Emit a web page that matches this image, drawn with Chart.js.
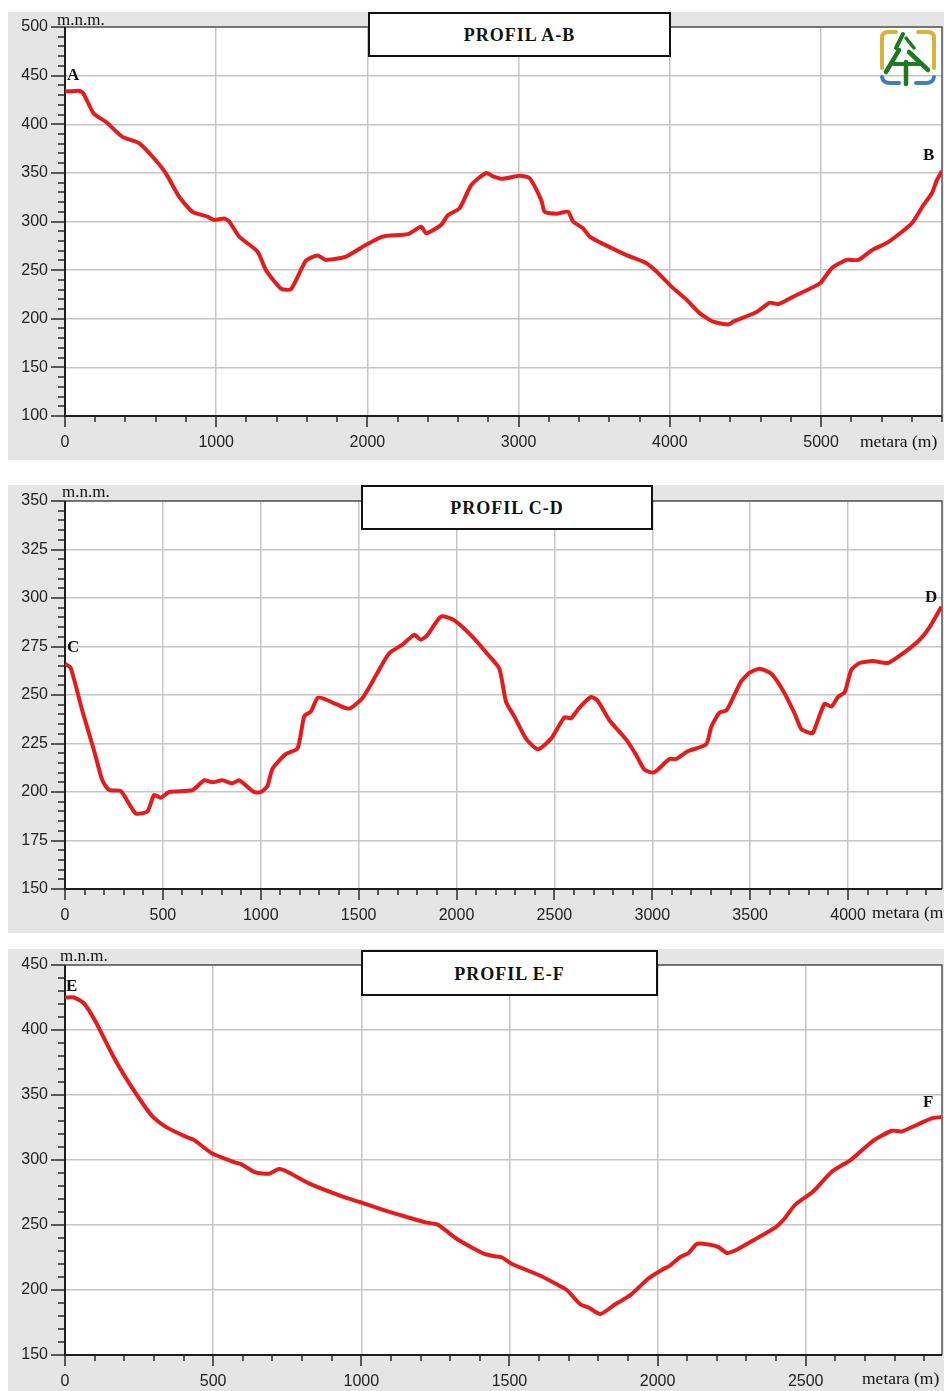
<!DOCTYPE html>
<html><head><meta charset="utf-8">
<script src="https://cdn.jsdelivr.net/npm/chart.js@4.4.1/dist/chart.umd.min.js"></script>
<style>
html,body{margin:0;padding:0;background:#fff;width:944px;height:1391px;overflow:hidden;position:relative}
.panel{position:absolute;left:8px;width:936px;background:#e5e5e5}
.panel canvas{position:absolute;left:0;top:0}
.title{position:absolute;background:#fff;border:2px solid #111;box-sizing:border-box;font:bold 18px "Liberation Serif",serif;letter-spacing:1px;display:flex;align-items:center;justify-content:center;color:#111;padding-top:2px}
.unit{position:absolute;font:17px/17px "Liberation Serif",serif;color:#111;white-space:nowrap}
.pt{position:absolute;font:bold 17px/17px "Liberation Serif",serif;color:#111}
</style></head><body>

<div class="panel" style="top:12px;height:448px"><canvas id="c1" width="936" height="448"></canvas></div>
<div class="panel" style="top:485px;height:448px"><canvas id="c2" width="936" height="448"></canvas></div>
<div class="panel" style="top:949px;height:442px"><canvas id="c3" width="936" height="442"></canvas></div>

<div class="title" style="left:368px;top:12px;width:303px;height:45px">PROFIL A-B</div>
<div class="title" style="left:361px;top:485px;width:292px;height:45px">PROFIL C-D</div>
<div class="title" style="left:361px;top:950px;width:297px;height:46px">PROFIL E-F</div>

<div class="unit" style="left:57px;top:11px">m.n.m.</div>
<div class="unit" style="left:62px;top:483px">m.n.m.</div>
<div class="unit" style="left:60px;top:947px">m.n.m.</div>
<div class="unit" style="left:860px;top:433px;font-size:17.5px">metara (m)</div>
<div class="unit" style="left:872px;top:904px;font-size:17.5px">metara (m)</div>
<div class="unit" style="left:862px;top:1370px;font-size:17.5px">metara (m)</div>

<div class="pt" style="left:67px;top:66px">A</div>
<div class="pt" style="left:923px;top:146px">B</div>
<div class="pt" style="left:67px;top:638px">C</div>
<div class="pt" style="left:925px;top:588px">D</div>
<div class="pt" style="left:66px;top:977px">E</div>
<div class="pt" style="left:923px;top:1093px">F</div>

<svg style="position:absolute;left:878px;top:28px" width="60" height="60" viewBox="0 0 60 60">
  <g fill="none" stroke-linecap="round">
    <path d="M4 40 V10 Q4 4 10 4 H18" stroke="#d8b23c" stroke-width="4"/>
    <path d="M40 4 H50 Q56 4 56 10 V40" stroke="#d8b23c" stroke-width="4"/>
    <path d="M4 49 Q5 55 12 55 H21" stroke="#3d7fc2" stroke-width="4"/>
    <path d="M38 55 H48 Q55 55 56 49" stroke="#3d7fc2" stroke-width="4"/>
    <path d="M25 6 L18 20" stroke="#1d7a22" stroke-width="4"/>
    <path d="M28 10 L36 20" stroke="#1d7a22" stroke-width="3.5"/>
    <path d="M21 22 L8 44" stroke="#1d7a22" stroke-width="4.5"/>
    <path d="M31 24 L50 42" stroke="#1d7a22" stroke-width="4.5"/>
    <path d="M16 36 H44" stroke="#1d7a22" stroke-width="4"/>
    <path d="M28 34 V56" stroke="#1d7a22" stroke-width="4.5"/>
  </g>
</svg>

<script>
// ---------- DATA ----------
// PROFIL A-B
const abDist = [0,90,120,190,270,380,490,600,667,755,843,942,987,1053,1086,1152,1274,1329,1428,1495,1594,1671,1726,1859,1991,2101,2267,2356,2389,2488,2532,2609,2687,2786,2830,2896,3007,3073,3150,3172,3250,3327,3360,3426,3470,3558,3713,3846,3912,4022,4111,4199,4287,4386,4419,4574,4662,4717,4839,4993,5071,5170,5247,5336,5446,5600,5678,5733,5766,5800];
const abElev = [433.5,434.5,432,411,402.5,387,380.5,363,349.5,325.5,310,305,301.5,303,300,284.5,269,250,231,230.5,260,265,260.5,264,276,284.5,287,294.5,288,296.5,306.5,313.5,337.5,350,346.5,344,347,344.5,322,310,308,310,300,293,284.5,277,265.5,257,248.5,231.5,219.5,205.5,197,194,197,207,216.5,215,224.5,236.5,252,260.5,260.5,270.5,279,298,317,329,342.5,352];
// PROFIL C-D
const cdDist = [0,29,88,148,191,225,285,361,421,455,489,532,651,711,753,804,855,890,966,1000,1034,1060,1128,1188,1222,1256,1290,1324,1392,1452,1520,1588,1656,1724,1784,1818,1852,1921,1989,2082,2168,2219,2253,2295,2355,2415,2483,2551,2585,2628,2688,2721,2781,2867,2918,2960,3003,3028,3088,3122,3181,3275,3301,3344,3378,3403,3454,3497,3548,3608,3667,3727,3761,3804,3821,3880,3915,3949,3983,4017,4059,4127,4204,4281,4366,4417,4477];
const cdElev = [266,264,242,221.5,206,201,200.5,189,190,198.5,197,200,201,206,205,206,204.5,206,200,200,203,212,219.5,222.5,239,241.5,248.5,248,245,243,248.5,260,271.5,276,281,278.5,281,290.5,288.5,280,270,263.5,246.5,239,227.5,222,227.5,238.5,238,243.5,249,247,237,227,219,211.5,210,211.5,217,217,221,224.5,233.5,241,242,246.5,257,261.5,263.5,261,252.5,240.5,232.5,230.5,230.5,245.5,244,249,251.5,263,266.5,267.5,266.5,271.5,278.5,285,295.5];
// PROFIL E-F
const efDist = [0,30,64,103,160,199,250,295,340,407,435,497,576,593,643,688,722,750,823,935,997,1076,1149,1216,1256,1284,1318,1362,1413,1450,1475,1509,1599,1655,1694,1739,1767,1807,1857,1908,1970,2015,2043,2077,2105,2133,2172,2206,2234,2267,2329,2397,2425,2464,2526,2588,2655,2723,2790,2824,2880,2925,2958];
const efElev = [425,425,420.5,406.5,381,365.5,347.5,333.5,325.5,318,315.5,305,298,297,290.5,289.5,293,291,282,272,267.5,261.5,256.5,252,250.5,246,240,234,228,226,225,220,211.5,205,200,189,186.5,181.5,189,196,209,215.5,219,225.5,228.5,235.5,235,233,228.5,231,239,248,254,265.5,276,291,300.5,314,322.5,322,327.5,332,333];

// tick labels
const abXLabels = [0,1000,2000,3000,4000,5000];
const abYLabels = [100,150,200,250,300,350,400,450,500];
const cdXLabels = [0,500,1000,1500,2000,2500,3000,3500,4000];
const cdYLabels = [150,175,200,225,250,275,300,325,350];
const efXLabels = [0,500,1000,1500,2000,2500];
const efYLabels = [150,200,250,300,350,400,450];

// ---------- CHART ----------
function steps(min, max, step){ const a=[]; for(let v=min; v<=max+1e-9; v+=step) a.push(v); return a; }
const GRID = '#c6c6c6';

const decor = {
  id: 'decor',
  beforeDraw(chart){
    const {ctx, chartArea:a} = chart;
    ctx.save(); ctx.fillStyle = '#fff'; ctx.fillRect(a.left, a.top, a.right-a.left, a.bottom-a.top); ctx.restore();
  },
  beforeDatasetsDraw(chart){
    const {ctx, chartArea:a, scales:{x, y}} = chart;
    const o = chart.options.plugins.decor;
    ctx.save();
    ctx.strokeStyle = '#2a2a2a'; ctx.lineWidth = 1.5;
    ctx.beginPath();
    x.ticks.forEach(t => { const p = Math.round(x.getPixelForValue(t.value)); const L = o.xl.includes(t.value) ? 11 : 6; ctx.moveTo(p, a.bottom); ctx.lineTo(p, a.bottom + L); });
    y.ticks.forEach(t => { const p = Math.round(y.getPixelForValue(t.value)); const L = o.yl.includes(t.value) ? 14 : 7; ctx.moveTo(a.left, p); ctx.lineTo(a.left - L, p); });
    ctx.stroke();
    ctx.strokeStyle = '#555'; ctx.lineWidth = 1.5;
    ctx.beginPath(); ctx.moveTo(a.left, a.top); ctx.lineTo(a.right, a.top); ctx.lineTo(a.right, a.bottom); ctx.stroke();
    ctx.strokeStyle = '#1e1e1e'; ctx.lineWidth = 2;
    ctx.beginPath(); ctx.moveTo(a.left, a.top); ctx.lineTo(a.left, a.bottom); ctx.lineTo(a.right, a.bottom); ctx.stroke();
    ctx.restore();
  }
};

function zeroPad(s){ s.paddingTop = 0; s.paddingBottom = 0; s.paddingLeft = 0; s.paddingRight = 0; }

function makeChart(id, dist, elev, c){
  const xTicks = steps(0, c.xMax, c.xStep);
  const yTicks = steps(c.yMin, c.yMax, c.yStep);
  const font = {family: '"Liberation Sans", Arial, sans-serif', size: 16};
  return new Chart(document.getElementById(id), {
    type: 'line',
    data: { datasets: [{
      data: dist.map((d, i) => ({x: d, y: elev[i]})),
      borderColor: '#e41c1c', borderWidth: 4, pointRadius: 0, tension: 0.2, fill: false
    }]},
    options: {
      responsive: false, animation: false, devicePixelRatio: 1,
      layout: {padding: {left: 0, right: 2, top: c.padTop, bottom: 0}},
      plugins: {legend: {display: false}, tooltip: {enabled: false}, decor: {xl: c.xLabels, yl: c.yLabels}},
      scales: {
        x: {
          type: 'linear', min: 0, max: c.xMax,
          afterBuildTicks: s => { s.ticks = xTicks.map(v => ({value: v})); },
          afterFit: s => { s.height = c.xAxisH; zeroPad(s); },
          grid: {drawTicks: false, lineWidth: 1.5, color: k => (k.tick && c.xLabels.includes(k.tick.value)) ? GRID : 'rgba(0,0,0,0)'},
          border: {display: false},
          ticks: {autoSkip: false, maxRotation: 0, minRotation: 0, padding: 17, color: '#222', font,
                  callback: v => c.xLabels.includes(v) ? String(v) : ''}
        },
        y: {
          type: 'linear', min: c.yMin, max: c.yMax,
          afterBuildTicks: s => { s.ticks = yTicks.map(v => ({value: v})); },
          afterFit: s => { s.width = 57; zeroPad(s); },
          grid: {drawTicks: false, lineWidth: 1.5, color: k => (k.tick && c.yLabels.includes(k.tick.value)) ? GRID : 'rgba(0,0,0,0)'},
          border: {display: false},
          ticks: {autoSkip: false, padding: 17, color: '#222', font,
                  callback: v => c.yLabels.includes(v) ? String(v) : ''}
        }
      }
    },
    plugins: [decor]
  });
}

makeChart('c1', abDist, abElev, {xMax: 5800, xStep: 200, xLabels: abXLabels, yMin: 100, yMax: 500, yStep: 10, yLabels: abYLabels, padTop: 15, xAxisH: 44});
makeChart('c2', cdDist, cdElev, {xMax: 4480, xStep: 100, xLabels: cdXLabels, yMin: 150, yMax: 350, yStep: 5, yLabels: cdYLabels, padTop: 16, xAxisH: 44});
makeChart('c3', efDist, efElev, {xMax: 2960, xStep: 100, xLabels: efXLabels, yMin: 150, yMax: 450, yStep: 10, yLabels: efYLabels, padTop: 16, xAxisH: 36});
</script>
</body></html>
